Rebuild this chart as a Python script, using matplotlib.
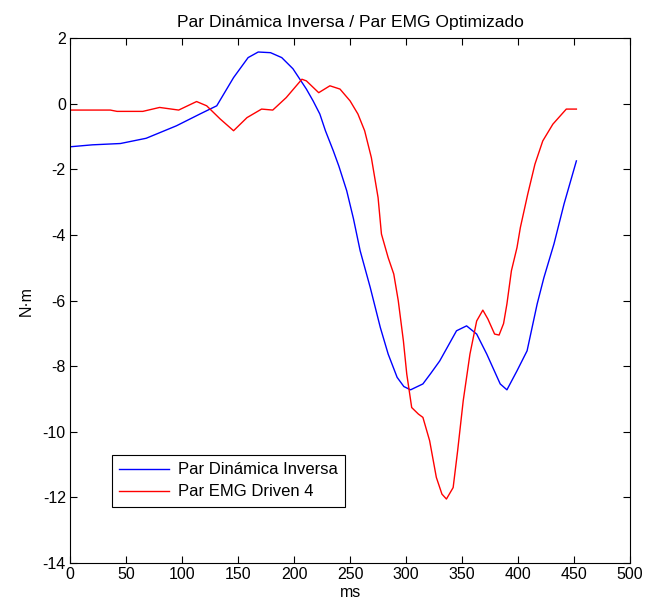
import numpy as np
import matplotlib
matplotlib.use("Agg")
import matplotlib.pyplot as plt

plt.rcParams['font.family'] = ['Liberation Sans', 'DejaVu Sans']
plt.rcParams['axes.unicode_minus'] = False

# Par Dinamica Inversa (blue)
t_inv = [0, 20, 45, 68, 95, 116, 131, 146, 159, 168, 179, 189, 199, 211, 217, 223, 228, 235, 240,
         247, 253, 259, 268, 277, 284, 292, 298, 304, 315, 322, 330, 338, 345, 354, 363, 372, 384, 390,
         399, 408, 417, 423, 432, 441, 452]
v_inv = [-1.31, -1.25, -1.21, -1.05, -0.67, -0.31, -0.06, 0.8, 1.41, 1.58, 1.56, 1.41, 1.07, 0.45, 0.09, -0.31, -0.82, -1.43, -1.9,
         -2.65, -3.5, -4.48, -5.6, -6.82, -7.63, -8.34, -8.62, -8.72, -8.54, -8.22, -7.84, -7.35, -6.92, -6.77, -7.02, -7.63, -8.54, -8.72,
         -8.14, -7.53, -6.1, -5.3, -4.27, -3.05, -1.74]

# Par EMG Driven 4 (red)
t_emg = [0, 36, 42, 65, 80, 97, 113, 122, 134, 146, 158, 171, 181, 193, 207, 211, 222, 232, 241, 250,
         257, 263, 269, 275, 278, 284, 289, 293, 297.6, 300.6, 305, 311, 315, 321, 327, 332, 336, 342,
         346, 351, 357, 363, 368.5, 373, 379, 383, 387, 390, 394, 399, 402, 408.6, 415, 422, 431, 443, 452]
v_emg = [-0.19, -0.19, -0.23, -0.23, -0.11, -0.19, 0.07, -0.06, -0.46, -0.82, -0.42, -0.16, -0.19, 0.19, 0.75, 0.7, 0.34, 0.55, 0.45, 0.09,
         -0.31, -0.82, -1.64, -2.86, -3.97, -4.69, -5.19, -6.0, -7.23, -8.24, -9.26, -9.46, -9.56, -10.27, -11.39, -11.9, -12.05, -11.7,
         -10.58, -9.05, -7.63, -6.62, -6.29, -6.56, -7.02, -7.05, -6.7, -6.1, -5.09, -4.38, -3.77, -2.75, -1.84, -1.13, -0.62, -0.16, -0.16]

fig = plt.figure(figsize=(6.45, 6.07), dpi=100)
ax = fig.add_axes([0.1085, 0.0725, 0.8685, 0.8645])

ax.plot(t_inv, v_inv, color='#0000ff', linewidth=1.0, label='Par Dinámica Inversa')
ax.plot(t_emg, v_emg, color='#ff0000', linewidth=1.0, label='Par EMG Driven 4')

ax.set_xlim(0, 500)
ax.set_ylim(-14, 2)
ax.set_xticks(np.arange(0, 501, 50))
ax.set_yticks(np.arange(-14, 3, 2))
ax.tick_params(direction='in', top=True, right=True, labelsize=11.5, length=5, pad=3)
ax.set_title('Par Dinámica Inversa / Par EMG Optimizado', fontsize=12.6, pad=8)
ax.set_xlabel('ms', fontsize=11.5, labelpad=2)
ax.set_ylabel('N·m', fontsize=11.5, labelpad=6)

leg = ax.legend(loc='lower left', bbox_to_anchor=(0.075, 0.107), fontsize=12,
                fancybox=False, edgecolor='black', framealpha=1, handlelength=3.0,
                handletextpad=0.5, borderpad=0.45, labelspacing=0.42, borderaxespad=0)
leg.get_frame().set_linewidth(0.8)

fig.savefig('out.png', dpi=100)
